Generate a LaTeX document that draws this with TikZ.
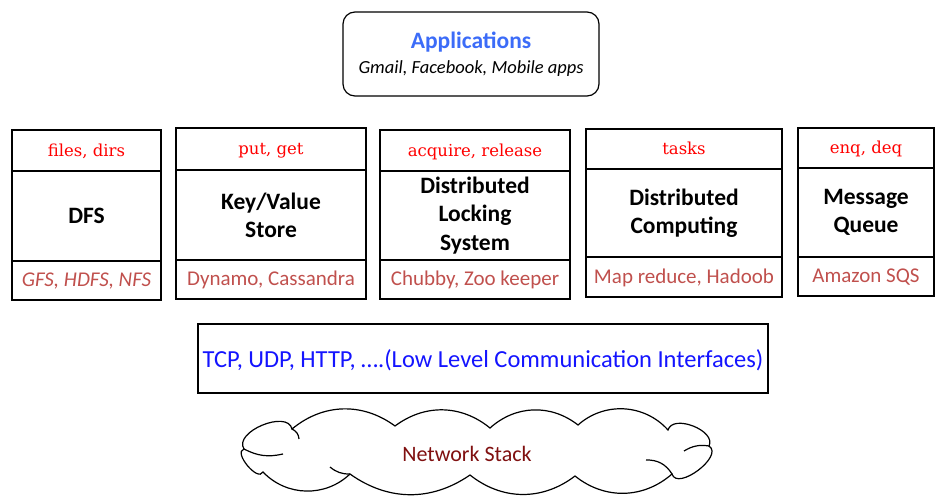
\documentclass[tikz,border=0pt]{standalone}
\usepackage{fontspec}
\setmainfont{Carlito}
\newfontfamily\apifont{DejaVu Serif}
\definecolor{apired}{RGB}{255,0,0}
\definecolor{implred}{RGB}{192,80,77}
\definecolor{appblue}{RGB}{60,108,248}
\definecolor{netblue}{RGB}{20,20,255}
\definecolor{stackred}{RGB}{128,16,16}
\tikzset{
  api/.style={draw, line width=1.2pt, inner sep=0pt, text height=12pt, text depth=1pt, text=apired, font=\apifont\fontsize{16.5}{18}\selectfont},
  service/.style={draw, line width=1.2pt, inner sep=0pt, align=center, font=\bfseries\fontsize{23.5}{28}\selectfont},
  impl/.style={draw, line width=1.2pt, inner sep=0pt, text height=13pt, text depth=1pt, text=implred, font=\fontsize{21}{24}\selectfont},
}
\begin{document}
\begin{tikzpicture}[x=1pt, y=-1pt]
  \useasboundingbox (0,0) rectangle (936,495);
  % top layer
  \node (apps) [draw, line width=1.2pt, rounded corners=12pt, minimum width=256pt, minimum height=84pt, align=center] at (471,54)
    {{\color{appblue}\bfseries\fontsize{23.5}{27}\selectfont Applications}\\[8pt]
     {\itshape\fontsize{18.5}{21}\selectfont Gmail, Facebook, Mobile apps}};
  % services
  \node (dfs-api) [api, minimum width=149pt, minimum height=41pt] at (86.5,150.5) {files, dirs};
  \node (dfs) [service, minimum width=149pt, minimum height=90pt] at (86.5,216) {DFS};
  \node (dfs-impl) [impl, minimum width=149pt, minimum height=39pt] at (86.5,280.5) {\itshape GFS, HDFS, NFS};

  \node (kv-api) [api, minimum width=190pt, minimum height=42pt] at (271,149) {put, get};
  \node (kv) [service, minimum width=190pt, minimum height=90pt] at (271,215) {Key/Value\\Store};
  \node (kv-impl) [impl, minimum width=190pt, minimum height=39pt] at (271,279.5) {Dynamo, Cassandra};

  \node (lock-api) [api, minimum width=190pt, minimum height=41pt] at (475,150.5) {acquire, release};
  \node (lock) [service, minimum width=190pt, minimum height=89pt, font=\bfseries\fontsize{23.5}{28.5}\selectfont] at (475,215.5) {Distributed\\Locking\\System};
  \node (lock-impl) [impl, minimum width=190pt, minimum height=39pt] at (475,279.5) {Chubby, Zoo keeper};

  \node (comp-api) [api, minimum width=196pt, minimum height=40pt] at (684,149) {tasks};
  \node (comp) [service, minimum width=196pt, minimum height=88pt] at (684,213) {Distributed\\Computing};
  \node (comp-impl) [impl, minimum width=196pt, minimum height=40pt] at (684,277) {Map reduce, Hadoob};

  \node (mq-api) [api, minimum width=136pt, minimum height=40pt] at (866,148) {enq, deq};
  \node (mq) [service, minimum width=136pt, minimum height=89pt] at (866,212.5) {Message\\Queue};
  \node (mq-impl) [impl, minimum width=136pt, minimum height=39pt] at (866,276.5) {Amazon SQS};
  % communication layer
  \node (comm) [draw, line width=1.2pt, minimum width=570pt, minimum height=69pt, text height=18pt, text depth=0pt, text=netblue, font=\fontsize{24.5}{27}\selectfont] at (483,358.5)
    {TCP, UDP, HTTP, \dots.(Low Level Communication Interfaces)};
  % cloud
  \draw [line width=1.2pt, fill=white] (263,472) to[bend left=115] (244,449) to[bend left=100] (292,429)
    to[bend left=38] (395,426) to[bend left=38] (490,428) to[bend left=40] (578,425)
    to[bend left=45] (668,430) to[bend left=95] (709,446) to[bend left=110] (672,474)
    to[bend left=40] (575,476) to[bend left=38] (470,475) to[bend left=35] (350,474)
    to[bend left=45] cycle;
  \draw [line width=1.2pt] (244,449) to[bend right=20] (283,454);
  \draw [line width=1.2pt] (292,429) to[bend left=30] (299,439);
  \draw [line width=1.2pt] (709,446) to[bend right=20] (684,451);
  \draw [line width=1.2pt] (672,474) to[bend right=30] (646,460);
  \draw [line width=1.2pt] (350,474) to[bend left=20] (330,467);
  \node (net) [text=stackred, font=\fontsize{22}{24}\selectfont] at (467,454) {Network Stack};
\end{tikzpicture}
\end{document}
